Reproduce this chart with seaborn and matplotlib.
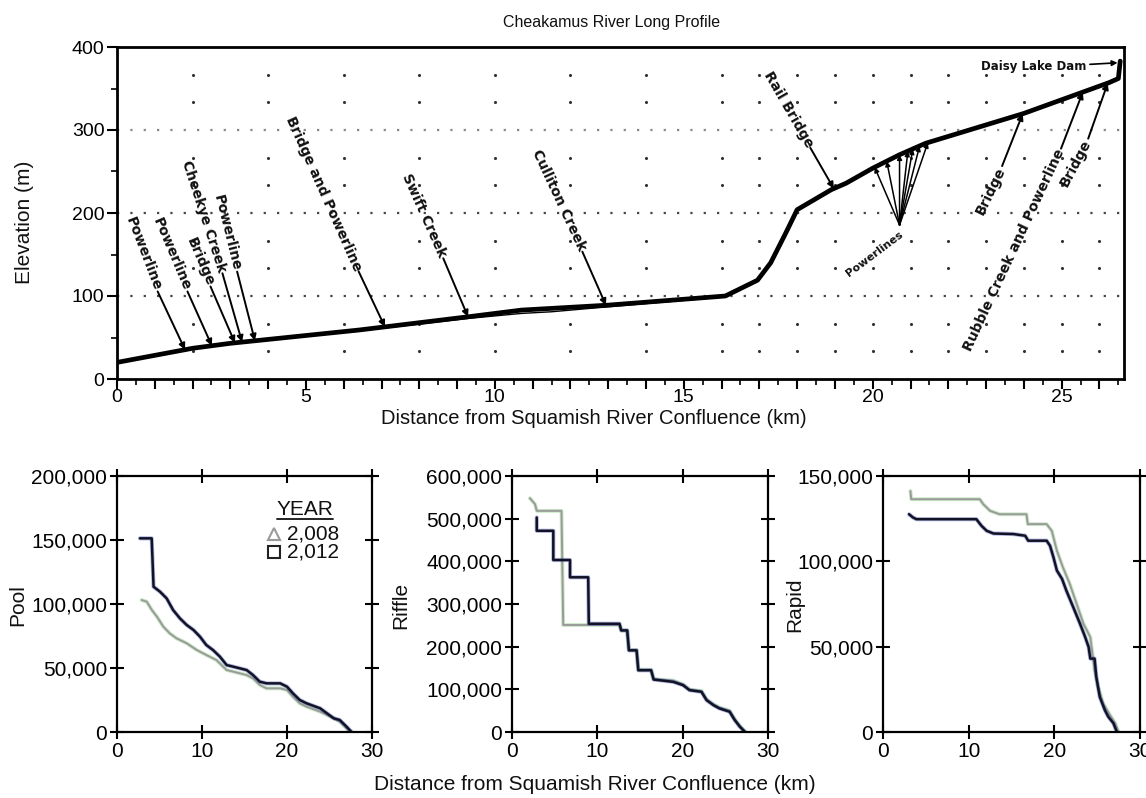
import numpy as np
import pandas as pd
import matplotlib
matplotlib.use("Agg")
import matplotlib.pyplot as plt
from matplotlib.ticker import FuncFormatter, MultipleLocator
import seaborn as sns

# ---------------- Long profile data ----------------
profile_km = [0, 2, 3, 6.4, 9.3, 10.7, 13.0, 16.1, 16.95, 17.3, 17.7, 18.0, 18.9, 19.3,
              20.0, 20.7, 21.4, 24.0, 26.25, 26.5, 26.55]
profile_m = [20, 37, 43, 59, 75, 83, 89, 100, 119, 140, 176, 204, 228, 236,
             254, 270, 284, 320, 357, 362, 383]
profile_alt_km = [6.4, 9.3, 10.0, 10.7, 11.5, 13.0, 16.1]
profile_alt_m = [58, 73, 76, 79, 81, 87, 99]

ann_labels = ["Powerline", "Powerline", "Bridge", "Cheekye Creek", "Powerline",
              "Bridge and Powerline", "Swift Creek", "Culliton Creek", "Rail Bridge",
              "Bridge", "Rubble Creek and Powerline", "Bridge"]
ann_text_km = [1.06, 1.85, 2.46, 2.78, 3.17, 6.38, 8.62, 12.30, 18.33, 23.41, 24.97, 25.69]
ann_text_m = [107, 107, 113, 129, 131, 131, 147, 155, 280, 255, 276, 288]
ann_rot = [-69, -67, -67, -72, -76, -66, -66, -65, -60, 64, 65, 62]
ann_tip_km = [1.80, 2.51, 3.12, 3.31, 3.65, 7.09, 9.29, 12.94, 18.97, 23.97, 25.56, 26.22]

fan_label = "Powerlines"
fan_apex = (20.71, 185.5)
fan_text = (20.77, 175)
fan_tips_km = [20.05, 20.37, 20.71, 20.93, 21.06, 21.24, 21.46]

dam_label = "Daisy Lake Dam"
dam_text = (25.66, 376)
dam_tip = (26.48, 381)

# ---------------- Cumulative volume data ----------------
pool_km_2012 = [2.7, 4.08, 4.3, 5.06, 5.84, 6.6, 7.4, 8.2, 9.0, 9.76, 10.5, 11.3, 12.1, 12.9,
                13.7, 15.25, 16.0, 16.8, 17.6, 19.2, 20.0, 20.7, 21.5, 22.3, 23.9, 24.7,
                25.5, 26.2, 27.0, 27.6]
pool_vol_2012 = [151300, 151300, 113500, 109600, 104400, 95300, 88800, 83600, 79700, 74500,
                 68000, 64000, 58900, 52300, 51000, 48400, 44500, 39300, 38000, 38000, 35400,
                 30200, 25000, 22400, 18500, 14600, 10700, 9400, 4200, 0]
pool_km_2008 = [2.9, 3.5, 4.1, 4.7, 5.45, 6.2, 7.0, 8.2, 9.4, 10.5, 11.7, 12.9, 13.7, 15.25,
                16.0, 16.8, 17.6, 19.2, 20.0, 20.7, 21.5, 22.3, 23.9, 24.7, 25.5, 26.2, 27.0,
                27.4]
pool_vol_2008 = [103100, 101800, 95300, 90100, 82300, 77100, 73200, 69300, 64000, 60200,
                 56200, 48400, 47100, 44500, 41900, 36700, 34100, 34100, 32800, 27600, 22400,
                 19800, 15900, 13300, 10700, 8100, 2900, 0]

riffle_km_2012 = [2.9, 2.9, 4.84, 4.84, 6.8, 6.8, 8.93, 9.0, 12.6, 12.8, 13.5, 13.7, 14.6,
                  14.8, 16.3, 16.6, 18.9, 20.05, 20.8, 22.2, 22.8, 23.6, 24.3, 25.5, 26.1,
                  26.7, 27.3]
riffle_vol_2012 = [502700, 471600, 471600, 403100, 403100, 362600, 362600, 253700, 253700,
                   238100, 238100, 191400, 191400, 144700, 144700, 123000, 117500, 109700,
                   98100, 94200, 74700, 63000, 55300, 47500, 28000, 12500, 0]
riffle_km_2008 = [2.1, 2.7, 2.9, 5.8, 6.0, 12.6, 12.8, 13.5, 13.7, 14.6, 14.8, 16.3, 16.6,
                  18.9, 20.05, 20.8, 22.2, 22.8, 23.6, 24.3, 25.5, 26.1, 26.7, 27.4]
riffle_vol_2008 = [547900, 533900, 518300, 518300, 250800, 250800, 238100, 238100, 192000,
                   192000, 146000, 146000, 124000, 120500, 111500, 99500, 96000, 76500,
                   65000, 57500, 50000, 30000, 14000, 0]

rapid_km_2012 = [3.04, 3.5, 3.9, 10.9, 11.5, 12.1, 12.9, 15.2, 16.6, 16.95, 19.1, 19.5, 19.9,
                 20.3, 20.9, 21.4, 22.2, 23.0, 23.6, 24.0, 24.2, 24.7, 24.9, 25.3, 25.9,
                 26.3, 26.9, 27.3]
rapid_vol_2012 = [127600, 125700, 124700, 124700, 120800, 117900, 116300, 116000, 115000,
                  112100, 112100, 109100, 102300, 94600, 89700, 82900, 73200, 63400, 55600,
                  49800, 43000, 43000, 32300, 20600, 12800, 8900, 5100, 0]
rapid_km_2008 = [3.2, 3.3, 11.3, 11.7, 12.5, 13.6, 16.75, 16.9, 19.1, 19.7, 20.3, 21.0, 21.8,
                 22.6, 23.4, 24.2, 24.5, 24.7, 25.1, 25.7, 26.5, 27.1, 27.5]
rapid_vol_2008 = [141200, 136400, 136400, 133500, 129600, 127600, 127600, 121800, 121800,
                  117900, 106200, 96500, 86800, 75100, 63400, 55600, 44000, 36200, 26500,
                  16700, 9900, 5100, 0]

years = ["2,008", "2,012"]
panel_names = ["Pool", "Riffle", "Rapid"]

# ---------------- Style ----------------
sns.set_theme(style="white")
plt.rcParams["font.family"] = ["Liberation Sans", "DejaVu Sans"]
plt.rcParams["axes.edgecolor"] = "black"
plt.rcParams["xtick.color"] = "black"
plt.rcParams["ytick.color"] = "black"
plt.rcParams["text.color"] = "#111111"

LABEL_FONT = ["Liberation Sans Narrow", "DejaVu Sans"]

fig = plt.figure(figsize=(11.46, 7.98), dpi=100)

# ---------------- Top panel ----------------
ax = fig.add_axes([117 / 1146, 1 - 379 / 798, 1007 / 1146, 332 / 798])
ax.set_xlim(0, 26.65)
ax.set_ylim(0, 400)

# dot grid
cols = list(range(2, 17, 2)) + list(range(17, 27))
rows = [k * 100 / 3 for k in range(1, 12) if k % 3 != 0]
gx, gy = np.meshgrid(cols, rows)
ax.scatter(gx.ravel(), gy.ravel(), s=5, color="#333333", linewidths=0, zorder=1)
for yl, col in ((100, "#444444"), (200, "#444444"), (300, "#888888")):
    ax.axhline(yl, color=col, lw=1.6, linestyle=(0, (1, 5)), zorder=1)

prof = pd.DataFrame({"km": profile_km, "m": profile_m})
prof_alt = pd.DataFrame({"km": profile_alt_km, "m": profile_alt_m})
sns.lineplot(data=prof, x="km", y="m", sort=False, estimator=None, color="black",
             lw=3.4, ax=ax, zorder=4)
sns.lineplot(data=prof_alt, x="km", y="m", sort=False, estimator=None, color="black",
             lw=1.0, ax=ax, zorder=4)

arrow_kw = dict(arrowstyle="-|>", color="black", lw=1.4, mutation_scale=9,
                shrinkA=1, shrinkB=0)
for lab, tx, ty, rot, tipx in zip(ann_labels, ann_text_km, ann_text_m, ann_rot, ann_tip_km):
    tipy = float(np.interp(tipx, profile_km, profile_m))
    ax.text(tx, ty, lab, rotation=rot, rotation_mode="anchor", ha="right", va="center",
            fontsize=10, fontweight="bold", family=LABEL_FONT, zorder=5)
    ax.annotate("", xy=(tipx, tipy), xytext=(tx, ty), arrowprops=arrow_kw, zorder=5)

for tipx in fan_tips_km:
    tipy = float(np.interp(tipx, profile_km, profile_m))
    ax.annotate("", xy=(tipx, tipy), xytext=fan_apex, arrowprops=dict(arrow_kw, lw=1.1,
                mutation_scale=7, shrinkA=0), zorder=5)
ax.text(fan_text[0], fan_text[1], fan_label, rotation=37, rotation_mode="anchor",
        ha="right", va="center", fontsize=8, fontweight="bold", family=LABEL_FONT, zorder=5)

ax.text(dam_text[0], dam_text[1], dam_label, ha="right", va="center", fontsize=8.5,
        fontweight="bold", family=LABEL_FONT, zorder=5)
ax.annotate("", xy=dam_tip, xytext=(dam_text[0] + 0.05, dam_text[1] + 3),
            arrowprops=dict(arrow_kw, lw=1.2, mutation_scale=8), zorder=5)

ax.xaxis.set_major_locator(MultipleLocator(1))
ax.xaxis.set_minor_locator(MultipleLocator(0.5))
ax.xaxis.set_major_formatter(FuncFormatter(lambda v, p: f"{int(round(v))}" if round(v) % 5 == 0 else ""))
ax.yaxis.set_major_locator(MultipleLocator(100))
ax.yaxis.set_minor_locator(MultipleLocator(50))
ax.tick_params(axis="both", which="major", direction="out", length=7, width=1.5,
               labelsize=14, pad=0, bottom=True, left=True)
ax.tick_params(axis="y", which="major", pad=2)
ax.tick_params(axis="both", which="minor", direction="out", length=4, width=1.2,
               bottom=True, left=True)
ax.set_xlabel("")
ax.set_ylabel("")
for s in ax.spines.values():
    s.set_linewidth(2.0)
    s.set_color("black")

fig.text(612 / 1146, 1 - 22 / 798, "Cheakamus River Long Profile", ha="center",
         va="center", fontsize=11.5)
fig.text(594 / 1146, 1 - 418 / 798, "Distance from Squamish River Confluence (km)",
         ha="center", va="center", fontsize=14.5)
fig.text(24 / 1146, 1 - 222 / 798, "Elevation (m)", rotation=90, ha="center",
         va="center", fontsize=15)

# ---------------- Bottom panels ----------------
panel_rects = [[117, 372], [512, 768], [883, 1140]]
panel_ylims = [200000, 600000, 150000]
panel_ysteps = [50000, 100000, 50000]
panel_label_x = [18, 401, 795]
panel_data = [
    (pool_km_2008, pool_vol_2008, pool_km_2012, pool_vol_2012),
    (riffle_km_2008, riffle_vol_2008, riffle_km_2012, riffle_vol_2012),
    (rapid_km_2008, rapid_vol_2008, rapid_km_2012, rapid_vol_2012),
]

c2008, h2008 = "#9a9a9a", "#6cc060"
c2012, h2012 = "#121224", "#3f50b8"

axes_b = []
for (l, r), ymax, ystep, lx, name, (x08, y08, x12, y12) in zip(
        panel_rects, panel_ylims, panel_ysteps, panel_label_x, panel_names, panel_data):
    a = fig.add_axes([l / 1146, 1 - 732 / 798, (r - l) / 1146, 256 / 798])
    axes_b.append(a)
    d08 = pd.DataFrame({"km": x08, "vol": y08})
    d12 = pd.DataFrame({"km": x12, "vol": y12})
    sns.lineplot(data=d08, x="km", y="vol", sort=False, estimator=None, color=h2008,
                 lw=2.8, alpha=0.35, ax=a)
    sns.lineplot(data=d08, x="km", y="vol", sort=False, estimator=None, color=c2008,
                 lw=1.4, ax=a)
    sns.lineplot(data=d12, x="km", y="vol", sort=False, estimator=None, color=h2012,
                 lw=3.0, alpha=0.4, ax=a)
    sns.lineplot(data=d12, x="km", y="vol", sort=False, estimator=None, color=c2012,
                 lw=1.8, ax=a)
    a.set_xlim(0, 30)
    a.set_ylim(0, ymax)
    a.xaxis.set_major_locator(MultipleLocator(10))
    a.yaxis.set_major_locator(MultipleLocator(ystep))
    a.yaxis.set_major_formatter(FuncFormatter(lambda v, p: f"{int(v):,}"))
    a.tick_params(axis="both", which="major", direction="inout", length=10, width=1.5,
                  labelsize=15, pad=2, bottom=True, left=True, top=True, right=True,
                  labeltop=False, labelright=False)
    a.set_xlabel("")
    a.set_ylabel("")
    for s in a.spines.values():
        s.set_linewidth(1.6)
        s.set_color("black")
    fig.text(lx / 1146, 1 - 605 / 798, name, rotation=90, ha="center", va="center",
             fontsize=15)

# legend in Pool panel
ap = axes_b[0]
ap.text(0.737, 0.871, "YEAR", transform=ap.transAxes, ha="center", va="center", fontsize=15)
ap.plot([0.627, 0.847], [0.833, 0.833], transform=ap.transAxes, color="#111111", lw=1.3)
ap.plot([0.615], [0.775], transform=ap.transAxes, marker="^", ls="none", ms=8, mfc="none",
        mec="#9a9a9a", mew=1.5)
ap.plot([0.615], [0.703], transform=ap.transAxes, marker="s", ls="none", ms=8, mfc="none",
        mec="#222222", mew=1.5)
ap.text(0.665, 0.775, years[0], transform=ap.transAxes, ha="left", va="center", fontsize=15)
ap.text(0.665, 0.703, years[1], transform=ap.transAxes, ha="left", va="center", fontsize=15)

fig.text(595 / 1146, 1 - 785 / 798, "Distance from Squamish River Confluence (km)",
         ha="center", va="center", fontsize=15)

fig.savefig("out.png", dpi=100, facecolor="white")
